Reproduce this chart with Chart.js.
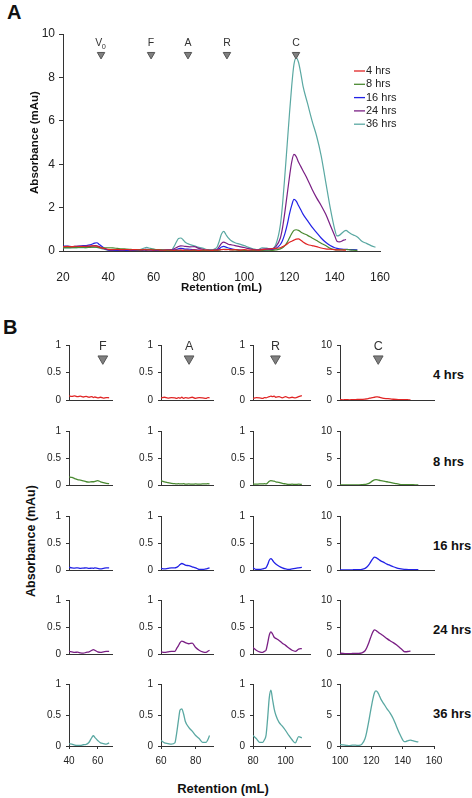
<!DOCTYPE html>
<html>
<head>
<meta charset="utf-8">
<script src="https://cdn.jsdelivr.net/npm/chart.js@4.4.0/dist/chart.umd.min.js"></script>
<style>
body { margin: 0; background: #fff; width: 472px; height: 798px; position: relative; overflow: hidden;
       font-family: "Liberation Sans", Arial, sans-serif; }
canvas { position: absolute; }
.lbl { position: absolute; font-weight: bold; color: #111; white-space: nowrap; }
</style>
</head>
<body>
<div class="lbl" style="left:7px;top:2px;font-size:20px;line-height:20px">A</div>
<div class="lbl" style="left:3px;top:317px;font-size:20px;line-height:20px">B</div>
<div class="lbl" style="left:31px;top:541px;font-size:12.5px;transform:translate(-50%,-50%) rotate(-90deg)">Absorbance (mAu)</div>
<div class="lbl" style="left:223px;top:788px;font-size:13px;transform:translate(-50%,-50%)">Retention (mL)</div>
<div id="rowLabels"></div>

<script>
// retention grid (mL), finer around the peaks
const retention = [
    20, 22, 24, 26, 28, 30, 32, 34, 35, 36,
    38, 40, 42, 44, 46, 48, 50, 52, 54, 56,
    57, 58, 60, 62, 64, 66, 68, 69, 70, 71,
    72, 73, 74, 76, 78, 80, 82, 84, 86, 87,
    88, 89, 90, 91, 92, 93, 94, 96, 98, 100,
    102, 104, 106, 108, 110, 112, 114, 116, 117, 118,
    119, 120, 121, 122, 123, 124, 125, 126, 128, 130,
    132, 134, 136, 138, 140, 141, 142, 144, 145, 146,
    148, 150, 152, 154, 156, 158
];

// absorbance (mAu)
const hrs4 = [
    0.2, 0.21, 0.2, 0.22, 0.21, 0.22, 0.23, 0.24, 0.22, 0.18,
    0.12, 0.075, 0.065, 0.075, 0.06, 0.07, 0.055, 0.065, 0.05, 0.06,
    0.045, 0.055, 0.04, 0.05, 0.035, 0.045, 0.04, 0.03, 0.045, 0.035,
    0.05, 0.03, 0.045, 0.035, 0.05, 0.03, 0.045, 0.04, 0.03, 0.045,
    0.04, 0.05, 0.06, 0.07, 0.06, 0.07, 0.05, 0.06, 0.04, 0.06,
    0.04, 0.05, 0.04, 0.06, 0.08, 0.1, 0.12, 0.15, 0.2, 0.25,
    0.32, 0.4, 0.45, 0.5, 0.55, 0.56, 0.5, 0.42, 0.3, 0.25,
    0.2, 0.14, 0.1, 0.08, 0.06, 0.05, 0.05, 0.04, 0.04, null,
    null, null, null, null, null, null
];
const hrs8 = [
    0.15, 0.16, 0.15, 0.16, 0.17, 0.16, 0.17, 0.18, 0.17, 0.16,
    0.15, 0.15, 0.14, 0.12, 0.1, 0.09, 0.075, 0.06, 0.055, 0.06,
    0.06, 0.065, 0.08, 0.06, 0.045, 0.03, 0.025, 0.02, 0.025, 0.02,
    0.02, 0.025, 0.015, 0.02, 0.015, 0.02, 0.015, 0.02, 0.02, 0.025,
    0.02, 0.04, 0.07, 0.08, 0.075, 0.07, 0.06, 0.05, 0.03, 0.02,
    0.01, 0.015, 0.01, 0.015, 0.01, 0.02, 0.05, 0.1, 0.15, 0.25,
    0.4, 0.6, 0.8, 0.95, 0.98, 0.95, 0.88, 0.82, 0.72, 0.6,
    0.48, 0.36, 0.25, 0.12, 0.06, 0.05, 0.05, 0.06, 0.07, 0.06,
    0.04, 0.03, null, null, null, null
];
const hrs16 = [
    0.22, 0.23, 0.2, 0.22, 0.24, 0.25, 0.28, 0.36, 0.38, 0.3,
    0.15, 0.05, 0.04, 0.035, 0.04, 0.03, 0.035, 0.04, 0.03, 0.035,
    0.03, 0.04, 0.03, 0.02, 0.03, 0.04, 0.04, 0.05, 0.07, 0.1,
    0.12, 0.11, 0.09, 0.08, 0.06, 0.04, 0.01, 0.01, 0.02, 0.03,
    0.04, 0.1, 0.18, 0.21, 0.18, 0.14, 0.11, 0.07, 0.04, 0.02,
    0.01, 0.02, 0.03, 0.04, 0.05, 0.06, 0.12, 0.3, 0.5, 0.8,
    1.2, 1.7, 2.1, 2.38, 2.3, 2.1, 1.9, 1.7, 1.4, 1.1,
    0.85, 0.6, 0.4, 0.25, 0.15, 0.12, 0.1, 0.08, 0.08, 0.07,
    0.06, 0.05, null, null, null, null
];
const hrs24 = [
    0.18, 0.19, 0.18, 0.2, 0.19, 0.2, 0.21, 0.25, 0.24, 0.2,
    0.12, 0.05, 0.04, 0.03, 0.035, 0.02, 0.015, 0.03, 0.04, 0.07,
    0.08, 0.07, 0.04, 0.03, 0.04, 0.05, 0.05, 0.1, 0.15, 0.21,
    0.24, 0.23, 0.21, 0.19, 0.2, 0.12, 0.07, 0.04, 0.03, 0.05,
    0.07, 0.2, 0.35, 0.41, 0.37, 0.31, 0.29, 0.25, 0.2, 0.16,
    0.11, 0.07, 0.05, 0.09, 0.1, 0.1, 0.2, 0.6, 1.1, 1.8,
    2.6, 3.4, 4.1, 4.45, 4.35, 4.1, 3.9, 3.7, 3.3, 2.85,
    2.45, 2.1, 1.7, 1.2, 0.7, 0.45, 0.42, 0.5, 0.53, null,
    null, null, null, null, null, null
];
const hrs36 = [
    0.15, 0.14, 0.15, 0.16, 0.15, 0.16, 0.17, 0.18, 0.17, 0.14,
    0.08, 0.035, 0.03, 0.015, 0.01, 0.01, 0.02, 0.025, 0.06, 0.14,
    0.165, 0.14, 0.09, 0.05, 0.04, 0.03, 0.05, 0.2, 0.4, 0.58,
    0.6, 0.52, 0.4, 0.3, 0.24, 0.17, 0.12, 0.06, 0.06, 0.1,
    0.17, 0.45, 0.78, 0.9, 0.75, 0.6, 0.5, 0.38, 0.32, 0.25,
    0.17, 0.1, 0.05, 0.15, 0.13, 0.1, 0.3, 1.2, 2.2, 3.5,
    4.9, 6.3, 7.6, 8.6, 8.9, 8.7, 8.2, 7.6, 6.8, 6,
    5.3, 4.4, 3.2, 2, 1.0, 0.7, 0.72, 0.9, 0.95, 0.88,
    0.75, 0.65, 0.45, 0.35, 0.25, 0.17
];

const seriesNames = ['4 hrs', '8 hrs', '16 hrs', '24 hrs', '36 hrs'];
const seriesColors = ['#e02424', '#4a8a32', '#2222e6', '#7a1f84', '#5aa8a2'];

// elution markers
const markerNamesA = ['V0', 'F', 'A', 'R', 'C'];
const markerPosA = [36.8, 58.9, 75.2, 92.4, 122.9];
const markerNamesB = ['F', 'A', 'R', 'C'];
const markerPosB = [63.6, 76.2, 93.8, 124.4];

// panel B columns: x range, end of plotted data, y max
const colMin = [40, 60, 80, 100];
const colMax = [70, 90, 115, 160];
const colDataEnd = [68, 88, 110, 150];
const colYMax = [1, 1, 1, 10];

// layout (page pixels)
const colLeft = [69, 161, 253, 340];
const colRight = [112, 213, 310, 434];
const rowTop = [342, 428, 513, 597, 681];
const rowBottom = [407, 492, 577, 661, 746];
const rowLabelY = [375, 462, 546, 630, 714];

const FONT = '"Liberation Sans", Arial, sans-serif';
Chart.defaults.font.family = FONT;
Chart.defaults.color = '#222';

const allSeries = [hrs4, hrs8, hrs16, hrs24, hrs36];

function pts(values, lo, hi) {
    const out = [];
    retention.forEach((x, i) => {
        if (values[i] !== null && x >= lo && x <= hi) out.push({ x: x, y: values[i] });
    });
    return out;
}

function addCanvas(left, top, w, h) {
    const c = document.createElement('canvas');
    c.width = w;
    c.height = h;
    c.style.left = left + 'px';
    c.style.top = top + 'px';
    c.style.width = w + 'px';
    c.style.height = h + 'px';
    document.body.appendChild(c);
    return c;
}

// text above the marker triangles
const markerText = {
    id: 'markerText',
    afterDatasetsDraw(chart) {
        const ctx = chart.ctx;
        chart.data.datasets.forEach((ds, i) => {
            if (!ds.markerNames) return;
            const meta = chart.getDatasetMeta(i);
            ctx.save();
            ctx.fillStyle = '#333';
            ctx.textAlign = 'center';
            ctx.textBaseline = 'middle';
            meta.data.forEach((pt, j) => {
                const name = ds.markerNames[j];
                const y = pt.y - ds.markerGap;
                ctx.font = ds.markerFont + 'px ' + FONT;
                if (name.length > 1) {
                    ctx.fillText(name[0], pt.x - 2.3, y);
                    ctx.font = (ds.markerFont * 0.7) + 'px ' + FONT;
                    ctx.fillText(name.slice(1), pt.x + 2.8, y + 3.5);
                } else {
                    ctx.fillText(name, pt.x, y);
                }
            });
            ctx.restore();
        });
    }
};

// legend drawn inside the plot area of panel A
const insideLegend = {
    id: 'insideLegend',
    afterDraw(chart, args, opts) {
        if (!opts.show) return;
        const ctx = chart.ctx;
        let y = opts.top;
        ctx.save();
        chart.data.datasets.forEach(ds => {
            if (ds.markerNames) return;
            ctx.strokeStyle = ds.borderColor;
            ctx.lineWidth = 1.3;
            ctx.beginPath();
            ctx.moveTo(opts.left, y);
            ctx.lineTo(opts.left + 11, y);
            ctx.stroke();
            ctx.fillStyle = '#222';
            ctx.font = '11px ' + FONT;
            ctx.textAlign = 'left';
            ctx.textBaseline = 'middle';
            ctx.fillText(ds.label, opts.left + 12, y);
            y += opts.step;
        });
        ctx.restore();
    }
};

function markerSet(names, pos, yVal, radius, gap, font) {
    return {
        data: pos.map(x => ({ x: x, y: yVal })),
        showLine: false,
        pointStyle: 'triangle',
        rotation: 180,
        pointRadius: radius,
        pointBackgroundColor: '#808080',
        pointBorderColor: '#555',
        pointBorderWidth: 1,
        markerNames: names,
        markerGap: gap,
        markerFont: font
    };
}

// #region panel A

const linesA = allSeries.map((s, i) => ({
    label: seriesNames[i],
    data: pts(s, 20, 160),
    borderColor: seriesColors[i],
    borderWidth: 1.2,
    pointRadius: 0,
    cubicInterpolationMode: 'monotone'
}));

new Chart(addCanvas(0, 0, 472, 300), {
    type: 'line',
    data: { datasets: [markerSet(markerNamesA, markerPosA, 9.05, 4.3, 11.3, 10.5)].concat(linesA) },
    options: {
        responsive: false,
        animation: false,
        events: [],
        layout: { padding: { left: 0, top: 34, right: 92, bottom: 0 }, autoPadding: false },
        plugins: {
            legend: { display: false },
            tooltip: { enabled: false },
            insideLegend: { show: true, left: 354, top: 71, step: 13.3 }
        },
        scales: {
            x: {
                type: 'linear', min: 20, max: 160,
                afterFit: s => { s.height = 49; },
                ticks: { stepSize: 20, padding: 11, font: { size: 12 }, includeBounds: false },
                grid: { display: false },
                border: { color: '#333' },
                title: { display: true, text: 'Retention (mL)', color: '#111',
                         font: { size: 11.5, weight: 'bold' }, padding: { top: 0, bottom: 5 } }
            },
            y: {
                min: 0, max: 10,
                afterFit: s => { s.width = 63; },
                ticks: { stepSize: 2, padding: 4, font: { size: 12 } },
                grid: { drawOnChartArea: false, tickLength: 4, color: '#333' },
                border: { color: '#333' },
                title: { display: true, text: 'Absorbance (mAu)', color: '#111',
                         font: { size: 11.5, weight: 'bold' }, padding: { top: 28, bottom: 0 } }
            }
        }
    },
    plugins: [markerText, insideLegend]
});

// #endregion

// #region panel B

for (let r = 0; r < 5; r++) {
    for (let c = 0; c < 4; c++) {
        const l = colLeft[c], rt = colRight[c], t = rowTop[r], b = rowBottom[r];
        const lastRow = r === 4;
        const bm = lastRow ? 28 : 4;
        const canvas = addCanvas(l - 42, t - 8, rt - l + 42 + 16, b - t + 8 + bm);

        const datasets = [{
            label: seriesNames[r],
            data: pts(allSeries[r], colMin[c], colDataEnd[c]),
            borderColor: seriesColors[r],
            borderWidth: 1.3,
            pointRadius: 0,
            cubicInterpolationMode: 'monotone'
        }];
        if (r === 0) {
            datasets.unshift(markerSet([markerNamesB[c]], [markerPosB[c]], colYMax[c] * 0.75, 5.6, 11.8, 12.5));
        }

        new Chart(canvas, {
            type: 'line',
            data: { datasets: datasets },
            options: {
                responsive: false,
                animation: false,
                events: [],
                layout: { padding: { left: 0, top: 8, right: 16, bottom: 0 }, autoPadding: false },
                plugins: { legend: { display: false }, tooltip: { enabled: false } },
                scales: {
                    x: {
                        type: 'linear', min: colMin[c], max: colMax[c],
                        afterFit: s => { s.height = bm; },
                        ticks: { display: lastRow, stepSize: 20, padding: 6, font: { size: 10 }, includeBounds: false },
                        grid: { display: lastRow, drawOnChartArea: false, tickLength: 3, color: '#333' },
                        border: { color: '#333' }
                    },
                    y: {
                        min: 0, max: colYMax[c],
                        afterFit: s => { s.width = 42; },
                        ticks: { stepSize: colYMax[c] / 2, padding: 5, font: { size: 10 },
                                 callback: v => String(v) },
                        grid: { drawOnChartArea: false, tickLength: 3, color: '#333' },
                        border: { color: '#333' }
                    }
                }
            },
            plugins: [markerText]
        });
    }
}

// row labels on the right
const rowBox = document.getElementById('rowLabels');
seriesNames.forEach((name, r) => {
    const d = document.createElement('div');
    d.className = 'lbl';
    d.style.left = '433px';
    d.style.top = (rowLabelY[r] - 8) + 'px';
    d.style.fontSize = '13px';
    d.style.lineHeight = '16px';
    d.textContent = name;
    rowBox.appendChild(d);
});

// #endregion
</script>
</body>
</html>
